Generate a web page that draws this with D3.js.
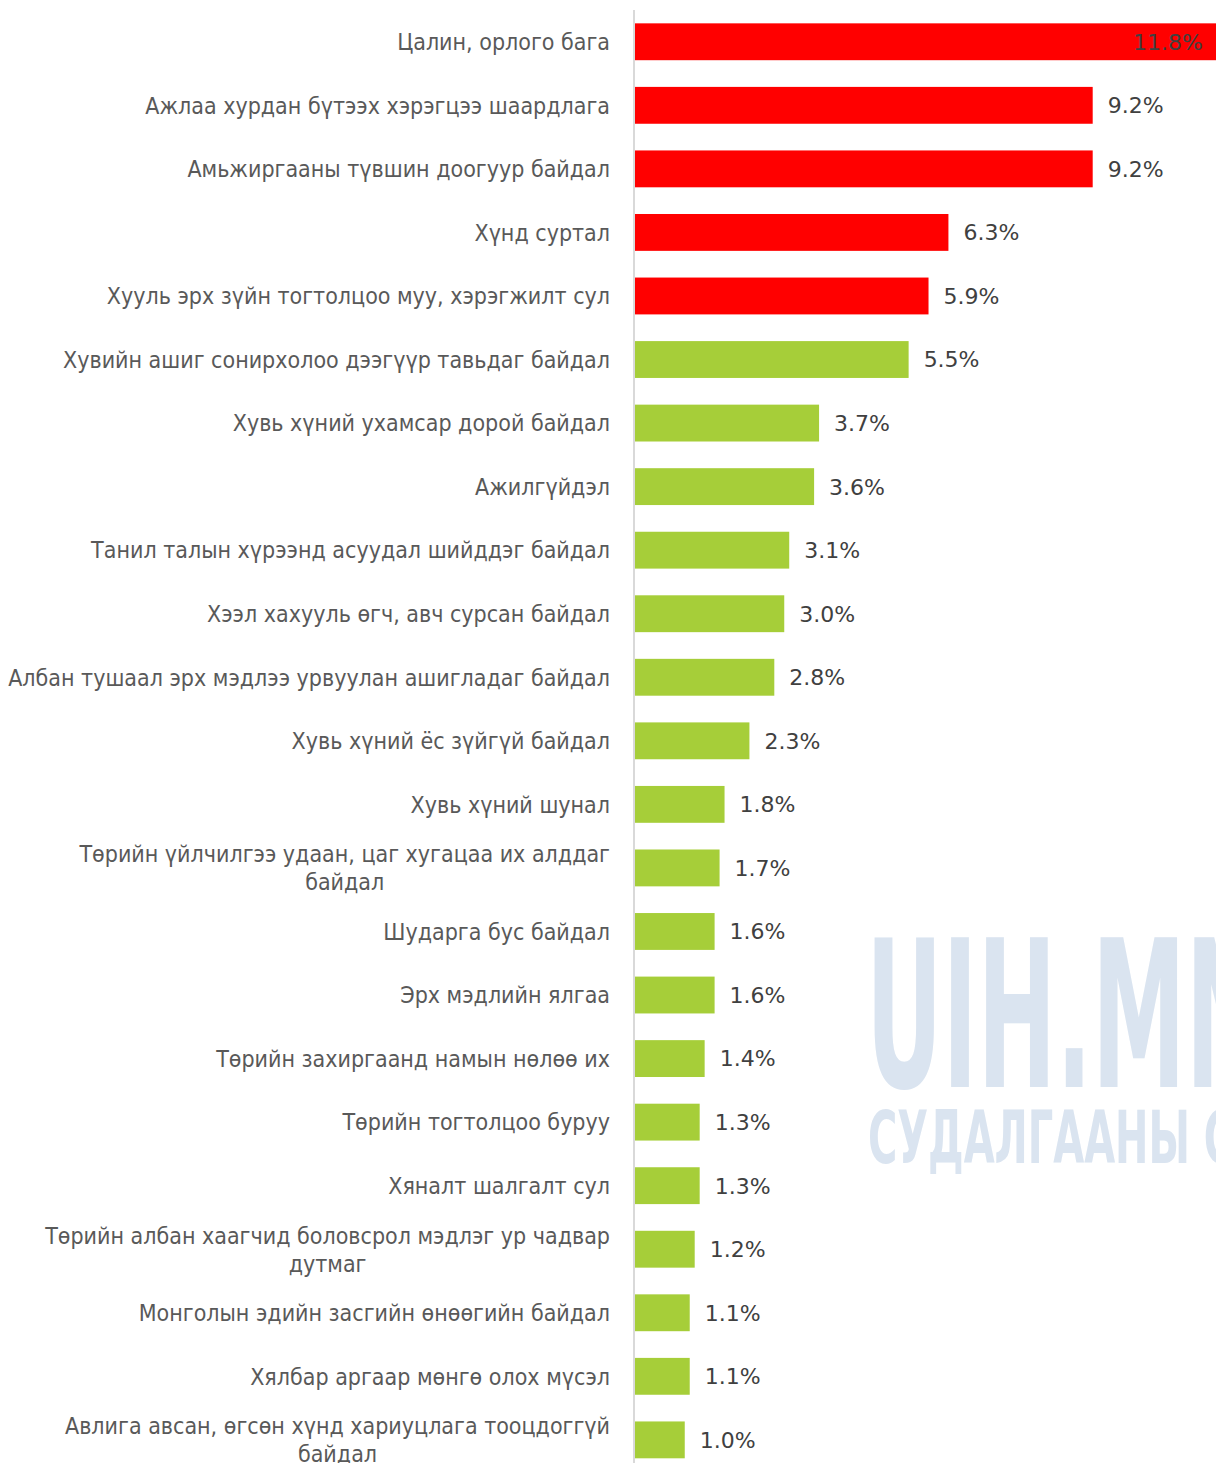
<!DOCTYPE html>
<html>
<head>
<meta charset="utf-8">
<script src="https://cdn.jsdelivr.net/npm/d3@7"></script>
<style>
  body { margin: 0; background: #fff; }
  svg { display: block; }
</style>
</head>
<body>
<div id="chart"></div>
<script>
// Data
const categories = [
    "Цалин, орлого бага",
    "Ажлаа хурдан бүтээх хэрэгцээ шаардлага",
    "Амьжиргааны түвшин доогуур байдал",
    "Хүнд суртал",
    "Хууль эрх зүйн тогтолцоо муу, хэрэгжилт сул",
    "Хувийн ашиг сонирхолоо дээгүүр тавьдаг байдал",
    "Хувь хүний ухамсар дорой байдал",
    "Ажилгүйдэл",
    "Танил талын хүрээнд асуудал шийддэг байдал",
    "Хээл хахууль өгч, авч сурсан байдал",
    "Албан тушаал эрх мэдлээ урвуулан ашигладаг байдал",
    "Хувь хүний ёс зүйгүй байдал",
    "Хувь хүний шунал",
    "Төрийн үйлчилгээ удаан, цаг хугацаа их алддаг|байдал",
    "Шударга бус байдал",
    "Эрх мэдлийн ялгаа",
    "Төрийн захиргаанд намын нөлөө их",
    "Төрийн тогтолцоо буруу",
    "Хяналт шалгалт сул",
    "Төрийн албан хаагчид боловсрол мэдлэг ур чадвар|дутмаг",
    "Монголын эдийн засгийн өнөөгийн байдал",
    "Хялбар аргаар мөнгө олох мүсэл",
    "Авлига авсан, өгсөн хүнд хариуцлага тооцдоггүй|байдал"
];

const values = [11.8, 9.2, 9.2, 6.3, 5.9, 5.5, 3.7, 3.6, 3.1, 3.0, 2.8, 2.3, 1.8, 1.7, 1.6, 1.6, 1.4, 1.3, 1.3, 1.2, 1.1, 1.1, 1.0];
// first five causes are highlighted in red
const highlighted = 5;

const data = categories.map((c, i) => ({ name: c, value: values[i], top: i < highlighted }));

const width = 1216, height = 1463;
const axisX = 634;

const svg = d3.select("#chart").append("svg")
    .attr("width", width)
    .attr("height", height);

// watermark, squeezed horizontally to look like a condensed face
function watermark(txt, fitPart, x0, baseline, size, fitWidth) {
    const g = svg.append("g");
    const t = g.append("text")
        .attr("fill", "#dae4f0")
        .style("font-family", "'DejaVu Sans Condensed', 'DejaVu Sans', sans-serif")
        .style("font-weight", "bold")
        .style("font-size", size + "px")
        .text(fitPart);
    const w = t.node().getComputedTextLength();
    t.text(txt);
    g.attr("transform", `translate(${x0},${baseline}) scale(${fitWidth / w},1)`);
}
watermark("UIH.MN", "UIH.", 866, 1087, 206, 226);
watermark("СУДАЛГААНЫ СТУДИ", "СУДАЛГААНЫ", 868, 1163, 73, 322);

const x = d3.scaleLinear()
    .domain([0, 1])
    .range([0, 49.75]);

const y = d3.scaleBand()
    .domain(data.map(d => d.name))
    .range([10, 10 + 23 * 63.55])
    .paddingInner(0.42)
    .paddingOuter(0.21);

const bars = svg.append("g");
bars.selectAll("rect")
    .data(data)
    .enter()
    .append("rect")
    .attr("x", axisX + 1)
    .attr("y", d => y(d.name))
    .attr("width", d => x(d.value))
    .attr("height", y.bandwidth())
    .attr("fill", d => d.top ? "#ff0000" : "#a6ce39");

// axis line
svg.append("line")
    .attr("x1", axisX).attr("x2", axisX)
    .attr("y1", 10).attr("y2", height)
    .attr("stroke", "#d9d9d9")
    .attr("stroke-width", 2);

// value labels
svg.append("g").selectAll("text")
    .data(data)
    .enter()
    .append("text")
    .each(function(d) {
        const end = axisX + 1 + x(d.value);
        const t = d3.select(this);
        if (end > width - 60) {
            t.attr("x", Math.min(end, width) - 13).attr("text-anchor", "end");
        } else {
            t.attr("x", end + 15).attr("text-anchor", "start");
        }
    })
    .attr("y", d => y(d.name) + y.bandwidth() / 2)
    .attr("dy", "0.36em")
    .style("font-family", "'DejaVu Sans', sans-serif")
    .style("font-size", "22px")
    .attr("fill", "#404040")
    .text(d => d.value.toFixed(1) + "%");

// category labels
const labels = svg.append("g")
    .style("font-family", "'DejaVu Sans Condensed', 'DejaVu Sans', sans-serif")
    .style("font-size", "23px")
    .attr("fill", "#595959");

data.forEach(d => {
    const lines = d.name.split("|");
    const cy = y(d.name) + y.bandwidth() / 2;
    if (lines.length === 1) {
        labels.append("text")
            .attr("x", 610).attr("y", cy)
            .attr("dy", "0.36em")
            .attr("text-anchor", "end")
            .text(lines[0]);
    } else {
        const first = labels.append("text")
            .attr("x", 610).attr("y", cy - 14)
            .attr("dy", "0.36em")
            .attr("text-anchor", "end")
            .text(lines[0]);
        const w = first.node().getComputedTextLength();
        labels.append("text")
            .attr("x", 610 - w / 2).attr("y", cy + 14)
            .attr("dy", "0.36em")
            .attr("text-anchor", "middle")
            .text(lines[1]);
    }
});
</script>
</body>
</html>
